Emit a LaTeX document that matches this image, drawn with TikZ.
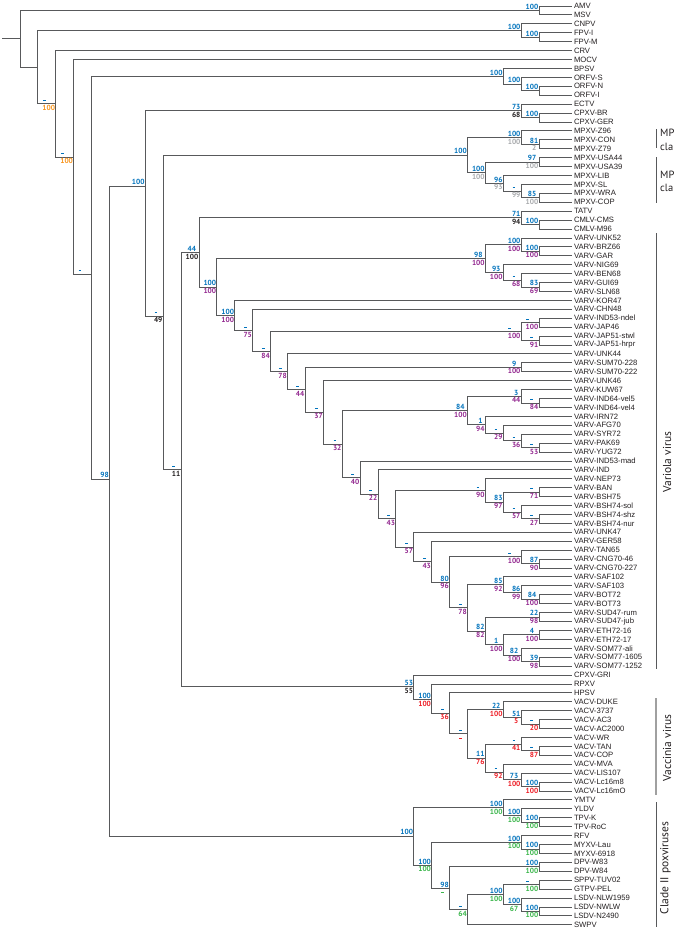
\documentclass[tikz,border=0pt]{standalone}
\usepackage{fontspec}
\setmainfont{Liberation Sans}
\newfontfamily\bsfont{PT Sans}
\newfontfamily\leaffont{Liberation Sans}
\definecolor{cB}{HTML}{0072BC}
\definecolor{cO}{HTML}{F7941D}
\definecolor{cP}{HTML}{92278F}
\definecolor{cR}{HTML}{ED1C24}
\definecolor{cG}{HTML}{39B54A}
\definecolor{cY}{HTML}{A7A9AC}
\definecolor{cK}{HTML}{231F20}
\definecolor{treegray}{HTML}{58595B}
\definecolor{lightbr}{HTML}{A0A0A0}
\newlength\lblw
\def\dashmark{-}
\newcommand\lblbox[2]{%
  \settowidth\lblw{00}%
  \setbox0=\hbox{#1}\ifdim\wd0>\lblw\lblw=\wd0\fi
  \setbox0=\hbox{#2}\ifdim\wd0>\lblw\lblw=\wd0\fi
  \def\tmpa{#1}%
  \ifx\tmpa\dashmark\makebox[\lblw][l]{\kern0.5pt\raisebox{1.8pt}{\rule{2.7pt}{0.9pt}}}\else\makebox[\lblw][c]{#1}\fi
  \vphantom{0}}
\newcommand\bsl[5]{%
  \node[bsl, text=#4, anchor=south east] (#1t) at ([shift={(-0.6pt,0.9pt)}]#1) {\lblbox{#2}{#3}};
  \node[bsl, text=#5, anchor=north east] (#1b) at ([shift={(-0.6pt,-1.1pt)}]#1) {\lblbox{#3}{#2}};}
\tikzset{
  br/.style={draw=treegray, line width=0.85pt},
  leaf/.style={anchor=west, inner xsep=1.8pt, inner ysep=0.3pt, text=cK,
    font=\leaffont\fontsize{7.7}{8}\selectfont},
  bsl/.style={inner sep=0pt, font=\bsfont\bfseries\fontsize{7.4}{8}\selectfont},
  side/.style={inner sep=0pt, text=cK, rotate=90, font=\bsfont\fontsize{11.5}{12}\selectfont},
  mp/.style={inner sep=0pt, anchor=west, text=cK, font=\bsfont\fontsize{10.5}{12}\selectfont},
  bracket/.style={draw=treegray, line width=0.8pt},
}
\begin{document}
\begin{tikzpicture}[x=1pt,y=-1pt]
\useasboundingbox (0,0) rectangle (675,930);
% leaves
\foreach \nm [count=\i] in {AMV,MSV,CNPV,FPV-I,FPV-M,CRV,MOCV,BPSV,ORFV-S,ORFV-N,ORFV-I,ECTV,CPXV-BR,CPXV-GER,
 MPXV-Z96,MPXV-CON,MPXV-Z79,MPXV-USA44,MPXV-USA39,MPXV-LIB,MPXV-SL,MPXV-WRA,MPXV-COP,TATV,CMLV-CMS,CMLV-M96,
 VARV-UNK52,VARV-BRZ66,VARV-GAR,VARV-NIG69,VARV-BEN68,VARV-GUI69,VARV-SLN68,VARV-KOR47,VARV-CHN48,
 VARV-IND53-ndel,VARV-JAP46,VARV-JAP51-stwl,VARV-JAP51-hrpr,VARV-UNK44,VARV-SUM70-228,VARV-SUM70-222,
 VARV-UNK46,VARV-KUW67,VARV-IND64-vel5,VARV-IND64-vel4,VARV-IRN72,VARV-AFG70,VARV-SYR72,VARV-PAK69,
 VARV-YUG72,VARV-IND53-mad,VARV-IND,VARV-NEP73,VARV-BAN,VARV-BSH75,VARV-BSH74-sol,VARV-BSH74-shz,
 VARV-BSH74-nur,VARV-UNK47,VARV-GER58,VARV-TAN65,VARV-CNG70-46,VARV-CNG70-227,VARV-SAF102,VARV-SAF103,
 VARV-BOT72,VARV-BOT73,VARV-SUD47-rum,VARV-SUD47-jub,VARV-ETH72-16,VARV-ETH72-17,VARV-SOM77-ali,
 VARV-SOM77-1605,VARV-SOM77-1252,CPXV-GRI,RPXV,HPSV,VACV-DUKE,VACV-3737,VACV-AC3,VACV-AC2000,VACV-WR,
 VACV-TAN,VACV-COP,VACV-MVA,VACV-LIS107,VACV-Lc16m8,VACV-Lc16mO,YMTV,YLDV,TPV-K,TPV-RoC,RFV,MYXV-Lau,
 MYXV-6918,DPV-W83,DPV-W84,SPPV-TUV02,GTPV-PEL,LSDV-NLW1959,LSDV-NWLW,LSDV-N2490,SWPV}
  \node[leaf] (L\i) at (572,{6+8.92*(\i-1)}) {\nm};
% internal nodes
\coordinate (Rs) at (2,38.8);
\coordinate (R0) at (20,38.8);
\coordinate (A) at (539.1,10.46);
\coordinate (N1) at (37.9,67.2);
\coordinate (B) at (521.2,30.53);
\coordinate (FPV) at (539.1,37.22);
\coordinate (N2) at (55.8,103.5);
\coordinate (N3) at (73.7,157);
\coordinate (N4) at (91.6,274);
\coordinate (C) at (503.3,76.25);
\coordinate (O1) at (521.2,84.05);
\coordinate (O2) at (539.1,90.74);
\coordinate (N5) at (109.5,479);
\coordinate (N6a) at (145.3,186);
\coordinate (E) at (521.2,110.81);
\coordinate (CPX) at (539.1,117.5);
\coordinate (N6b) at (163.2,316);
\coordinate (M0) at (467.5,155.13);
\coordinate (M1) at (521.2,137.57);
\coordinate (M3) at (539.1,144.26);
\coordinate (M2) at (485.4,172.7);
\coordinate (M4) at (539.1,162.1);
\coordinate (M5) at (503.3,183.29);
\coordinate (M6) at (521.2,191.09);
\coordinate (M7) at (539.1,197.78);
\coordinate (N7) at (181.1,469.6);
\coordinate (N8) at (199,252.42);
\coordinate (T) at (521.2,217.85);
\coordinate (CML) at (539.1,224.54);
\coordinate (N9) at (216.9,286.99);
\coordinate (W1) at (485.4,258.55);
\coordinate (W2) at (521.2,244.61);
\coordinate (W5) at (539.1,251.3);
\coordinate (W3) at (503.3,272.49);
\coordinate (W4) at (521.2,280.29);
\coordinate (W6) at (539.1,286.98);
\coordinate (N10) at (234.8,315.43);
\coordinate (N11) at (252.7,330.5);
\coordinate (N12) at (270.6,351.71);
\coordinate (J0) at (521.2,331.58);
\coordinate (J1) at (539.1,322.66);
\coordinate (J2) at (539.1,340.5);
\coordinate (N13) at (287.5,371.84);
\coordinate (N14) at (305,389.8);
\coordinate (SUM) at (521.2,367.26);
\coordinate (N15) at (323.5,412.34);
\coordinate (N16) at (342.2,444.04);
\coordinate (K0) at (467.5,410.47);
\coordinate (K1) at (521.2,396.25);
\coordinate (IND64) at (539.1,402.94);
\coordinate (K2) at (485.4,424.69);
\coordinate (K3) at (503.3,433.05);
\coordinate (K4) at (521.2,440.85);
\coordinate (K5) at (539.1,447.54);
\coordinate (N17) at (360.1,477.61);
\coordinate (N18) at (378,494.3);
\coordinate (N19) at (395.9,518.75);
\coordinate (P0) at (485.4,490.47);
\coordinate (P1) at (503.3,502.18);
\coordinate (P2) at (539.1,492.14);
\coordinate (P3) at (521.2,512.21);
\coordinate (P4) at (539.1,518.9);
\coordinate (N20) at (413.8,547.02);
\coordinate (N21) at (431.7,561.76);
\coordinate (N22) at (449.6,582.32);
\coordinate (T0) at (521.2,556.81);
\coordinate (CNG) at (539.1,563.5);
\coordinate (N23) at (467.5,607.83);
\coordinate (S0) at (503.3,584.69);
\coordinate (S1) at (521.2,592.49);
\coordinate (BOT) at (539.1,599.18);
\coordinate (N24) at (485.4,630.96);
\coordinate (SUD) at (539.1,617.02);
\coordinate (N25) at (503.3,644.9);
\coordinate (ETH) at (539.1,634.86);
\coordinate (SOM) at (521.2,654.93);
\coordinate (SOM2) at (539.1,661.62);
\coordinate (V0) at (413.8,686.8);
\coordinate (V1) at (431.7,699.5);
\coordinate (V2) at (449.6,713.33);
\coordinate (V3) at (467.5,733.82);
\coordinate (V4) at (503.3,709.57);
\coordinate (V6) at (521.2,717.37);
\coordinate (V7) at (539.1,724.06);
\coordinate (V5) at (485.4,758.07);
\coordinate (V8) at (521.2,744.13);
\coordinate (V10) at (539.1,750.82);
\coordinate (V9) at (503.3,772.0);
\coordinate (V11) at (521.2,779.81);
\coordinate (V12) at (539.1,786.5);
\coordinate (C0) at (413.8,836);
\coordinate (C1) at (503.3,807.69);
\coordinate (C3) at (521.2,815.49);
\coordinate (C4) at (539.1,822.18);
\coordinate (C2) at (431.7,865.25);
\coordinate (C5) at (521.2,842.25);
\coordinate (MYX) at (539.1,848.94);
\coordinate (C6) at (449.6,888.25);
\coordinate (DPV) at (539.1,866.78);
\coordinate (C7) at (467.5,909.71);
\coordinate (C8) at (503.3,894.66);
\coordinate (C9) at (539.1,884.62);
\coordinate (C10) at (521.2,904.69);
\coordinate (C11) at (539.1,911.38);
% branches
\draw[br] (Rs) -- (R0);
\foreach \p/\c in {R0/A,R0/N1,A/L1.west,A/L2.west,N1/B,N1/N2,B/L3.west,B/FPV,FPV/L4.west,FPV/L5.west,
 N2/L6.west,N2/N3,N3/L7.west,N3/N4,N4/C,N4/N5,C/L8.west,C/O1,O1/L9.west,O1/O2,O2/L10.west,O2/L11.west,
 N5/N6a,N5/C0,N6a/E,N6a/N6b,E/L12.west,E/CPX,CPX/L13.west,CPX/L14.west,N6b/M0,N6b/N7,
 M0/M1,M0/M2,M1/L15.west,M1/M3,M3/L16.west,M3/L17.west,M2/M4,M2/M5,M4/L18.west,M4/L19.west,
 M5/L20.west,M5/M6,M6/L21.west,M6/M7,M7/L22.west,M7/L23.west,
 N7/N8,N7/V0,N8/T,N8/N9,T/L24.west,T/CML,CML/L25.west,CML/L26.west,
 N9/W1,N9/N10,W1/W2,W1/W3,W2/L27.west,W2/W5,W5/L28.west,W5/L29.west,W3/L30.west,W3/W4,
 W4/L31.west,W4/W6,W6/L32.west,W6/L33.west,
 N10/L34.west,N10/N11,N11/L35.west,N11/N12,N12/J0,N12/N13,J0/J1,J0/J2,J1/L36.west,J1/L37.west,
 J2/L38.west,J2/L39.west,N13/L40.west,N13/N14,N14/SUM,N14/N15,SUM/L41.west,SUM/L42.west,
 N15/L43.west,N15/N16,N16/K0,N16/N17,K0/K1,K0/K2,K1/L44.west,K1/IND64,IND64/L45.west,IND64/L46.west,
 K2/L47.west,K2/K3,K3/L48.west,K3/K4,K4/L49.west,K4/K5,K5/L50.west,K5/L51.west,
 N17/L52.west,N17/N18,N18/L53.west,N18/N19,N19/P0,N19/N20,P0/L54.west,P0/P1,P1/P2,P1/P3,
 P2/L55.west,P2/L56.west,P3/L57.west,P3/P4,P4/L58.west,P4/L59.west,
 N20/L60.west,N20/N21,N21/L61.west,N21/N22,N22/T0,N22/N23,T0/L62.west,T0/CNG,CNG/L63.west,CNG/L64.west,
 N23/S0,N23/N24,S0/L65.west,S0/S1,S1/L66.west,S1/BOT,BOT/L67.west,BOT/L68.west,
 N24/SUD,N24/N25,SUD/L69.west,SUD/L70.west,N25/ETH,N25/SOM,ETH/L71.west,ETH/L72.west,
 SOM/L73.west,SOM/SOM2,SOM2/L74.west,SOM2/L75.west,
 V0/L76.west,V0/V1,V1/L77.west,V1/V2,V2/L78.west,V2/V3,V3/V4,V3/V5,V4/L79.west,V4/V6,
 V6/L80.west,V6/V7,V7/L81.west,V7/L82.west,V5/V8,V5/V9,V8/L83.west,V8/V10,V10/L84.west,V10/L85.west,
 V9/L86.west,V9/V11,V11/L87.west,V11/V12,V12/L88.west,V12/L89.west,
 C0/C1,C0/C2,C1/L90.west,C1/C3,C3/L91.west,C3/C4,C4/L92.west,C4/L93.west,
 C2/C5,C2/C6,C5/L94.west,C5/MYX,MYX/L95.west,MYX/L96.west,C6/DPV,C6/C7,DPV/L97.west,DPV/L98.west,
 C7/C8,C7/L104.west,C8/C9,C8/C10,C9/L99.west,C9/L100.west,C10/L101.west,C10/C11,C11/L102.west,C11/L103.west}
  \draw[br] (\p) |- (\c);
% support values
\bsl{A}{100}{}{cB}{cB}
\bsl{B}{100}{}{cB}{cB}
\bsl{FPV}{100}{}{cB}{cB}
\bsl{N2}{-}{100}{cB}{cO}
\bsl{N3}{-}{100}{cB}{cO}
\bsl{N4}{-}{\phantom{000}}{cB}{cB}
\bsl{C}{100}{}{cB}{cB}
\bsl{O1}{100}{}{cB}{cB}
\bsl{O2}{100}{}{cB}{cB}
\bsl{N5}{98}{}{cB}{cB}
\bsl{N6a}{100}{}{cB}{cB}
\bsl{E}{73}{68}{cB}{cK}
\bsl{CPX}{100}{}{cB}{cB}
\bsl{N6b}{-}{49}{cB}{cK}
\bsl{M0}{100}{}{cB}{cB}
\bsl{M1}{100}{100}{cB}{cY}
\bsl{M3}{81}{2}{cB}{cY}
\bsl{M2}{100}{100}{cB}{cY}
\bsl{M4}{97}{100}{cB}{cY}
\bsl{M5}{96}{93}{cB}{cY}
\bsl{M6}{-}{99}{cB}{cY}
\bsl{M7}{85}{100}{cB}{cY}
\bsl{N7}{-}{11}{cB}{cK}
\bsl{N8}{44}{100}{cB}{cK}
\bsl{T}{71}{94}{cB}{cK}
\bsl{CML}{100}{}{cB}{cB}
\bsl{N9}{100}{100}{cB}{cP}
\bsl{W1}{98}{100}{cB}{cP}
\bsl{W2}{100}{100}{cB}{cP}
\bsl{W5}{100}{100}{cB}{cP}
\bsl{W3}{93}{100}{cB}{cP}
\bsl{W4}{-}{68}{cB}{cP}
\bsl{W6}{83}{69}{cB}{cP}
\bsl{N10}{100}{100}{cB}{cP}
\bsl{N11}{-}{75}{cB}{cP}
\bsl{N12}{-}{84}{cB}{cP}
\bsl{J0}{-}{100}{cB}{cP}
\bsl{J1}{-}{100}{cB}{cP}
\bsl{J2}{-}{91}{cB}{cP}
\bsl{N13}{-}{78}{cB}{cP}
\bsl{N14}{-}{44}{cB}{cP}
\bsl{SUM}{9}{100}{cB}{cP}
\bsl{N15}{-}{37}{cB}{cP}
\bsl{N16}{-}{32}{cB}{cP}
\bsl{K0}{84}{100}{cB}{cP}
\bsl{K1}{3}{44}{cB}{cP}
\bsl{IND64}{-}{84}{cB}{cP}
\bsl{K2}{1}{94}{cB}{cP}
\bsl{K3}{-}{29}{cB}{cP}
\bsl{K4}{-}{36}{cB}{cP}
\bsl{K5}{-}{53}{cB}{cP}
\bsl{N17}{-}{40}{cB}{cP}
\bsl{N18}{-}{22}{cB}{cP}
\bsl{N19}{-}{43}{cB}{cP}
\bsl{P0}{-}{90}{cB}{cP}
\bsl{P1}{83}{97}{cB}{cP}
\bsl{P2}{-}{71}{cB}{cP}
\bsl{P3}{-}{57}{cB}{cP}
\bsl{P4}{-}{27}{cB}{cP}
\bsl{N20}{-}{57}{cB}{cP}
\bsl{N21}{-}{43}{cB}{cP}
\bsl{N22}{80}{96}{cB}{cP}
\bsl{T0}{-}{100}{cB}{cP}
\bsl{CNG}{87}{90}{cB}{cP}
\bsl{N23}{-}{78}{cB}{cP}
\bsl{S0}{85}{92}{cB}{cP}
\bsl{S1}{86}{99}{cB}{cP}
\bsl{BOT}{84}{100}{cB}{cP}
\bsl{N24}{82}{82}{cB}{cP}
\bsl{SUD}{22}{98}{cB}{cP}
\bsl{N25}{1}{100}{cB}{cP}
\bsl{ETH}{4}{100}{cB}{cP}
\bsl{SOM}{82}{100}{cB}{cP}
\bsl{SOM2}{39}{98}{cB}{cP}
\bsl{V0}{53}{55}{cB}{cK}
\bsl{V1}{100}{100}{cB}{cR}
\bsl{V2}{-}{36}{cB}{cR}
\bsl{V3}{-}{-}{cB}{cR}
\bsl{V4}{22}{100}{cB}{cR}
\bsl{V6}{51}{5}{cB}{cR}
\bsl{V7}{-}{20}{cB}{cR}
\bsl{V5}{11}{76}{cB}{cR}
\bsl{V8}{-}{41}{cB}{cR}
\bsl{V10}{-}{87}{cB}{cR}
\bsl{V9}{-}{92}{cB}{cR}
\bsl{V11}{73}{100}{cB}{cR}
\bsl{V12}{100}{100}{cB}{cR}
\bsl{C0}{100}{}{cB}{cB}
\bsl{C1}{100}{100}{cB}{cG}
\bsl{C3}{100}{100}{cB}{cG}
\bsl{C4}{100}{100}{cB}{cG}
\bsl{C2}{100}{100}{cB}{cG}
\bsl{C5}{100}{100}{cB}{cG}
\bsl{MYX}{100}{100}{cB}{cG}
\bsl{C6}{98}{-}{cB}{cG}
\bsl{DPV}{100}{100}{cB}{cG}
\bsl{C7}{-}{64}{cB}{cG}
\bsl{C8}{100}{100}{cB}{cG}
\bsl{C9}{-}{100}{cB}{cG}
\bsl{C10}{100}{67}{cB}{cG}
\bsl{C11}{100}{100}{cB}{cG}
% clade brackets
\coordinate (m1a) at (656.5,129); \coordinate (m1b) at (656.5,148);
\coordinate (m2a) at (656.5,157); \coordinate (m2b) at (656.5,203);
\coordinate (vra) at (656,233); \coordinate (vrb) at (656,669);
\coordinate (vca) at (656,698); \coordinate (vcb) at (656,795);
\coordinate (c2a) at (656,802); \coordinate (c2b) at (656,927);
\draw[bracket] (m1a) -- (m1b);
\draw[bracket] (m2a) -- (m2b);
\draw[bracket] (vra) -- (vrb);
\draw[bracket, draw=lightbr, line width=1.3pt] (vca) -- (vcb);
\draw[bracket] (c2a) -- (c2b);
\node[mp] (mpa1) at (660,133) {MP};
\node[mp] (mpa2) at (660,146.5) {cla};
\node[mp] (mpb1) at (660,174.3) {MP};
\node[mp] (mpb2) at (660,188.3) {cla};
\node[side] (varl) at (667,462) {Variola virus};
\node[side] (vacl) at (667,748) {Vaccinia virus};
\node[side] (cl2) at (665.5,868) {Clade II poxviruses};
\end{tikzpicture}
\end{document}
